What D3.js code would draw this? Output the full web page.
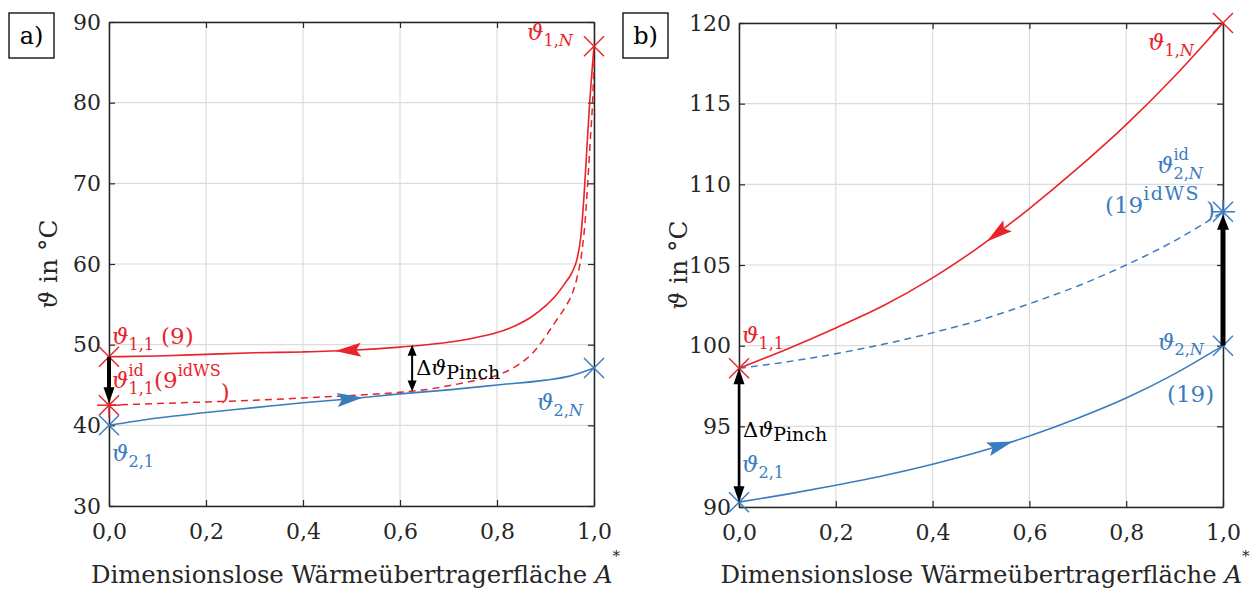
<!DOCTYPE html>
<html><head><meta charset="utf-8">
<script src="https://cdn.jsdelivr.net/npm/d3@7"></script>
<style>body{margin:0;background:#fff} text{font-family:"DejaVu Serif",serif}</style>
</head><body><svg id="c" width="1260" height="595"></svg>
<script>
// ---------- data ----------
const xTicks = [0, 0.2, 0.4, 0.6, 0.8, 1.0];
const aYTicks = [30, 40, 50, 60, 70, 80, 90];
const bYTicks = [90, 95, 100, 105, 110, 115, 120];

// panel a
const aHotX  = [0,0.1,0.2,0.3,0.4,0.5,0.6,0.7,0.75,0.8,0.84,0.87,0.9,0.92,0.94,0.955,0.965,0.973,0.98,0.985,0.99,1.0];
const aHotY  = [48.5,48.6,48.8,49.0,49.1,49.3,49.7,50.3,50.8,51.5,52.4,53.4,54.8,56.0,57.6,59.0,60.6,63.5,69.0,74.0,79.0,87.0];
const aHotIdX = [0,0.1,0.2,0.3,0.4,0.5,0.6,0.65,0.7,0.75,0.8,0.83,0.86,0.88,0.9,0.92,0.94,0.955,0.965,0.975,0.982,0.988,0.993,0.997,1.0];
const aHotIdY = [42.5,42.7,42.9,43.1,43.4,43.7,44.1,44.4,44.9,45.5,46.2,47.0,48.2,49.4,51.0,52.8,54.6,56.3,58.3,61.5,65.5,71.0,76.0,80.0,85.0];
const aColdX = [0,0.1,0.2,0.3,0.4,0.5,0.6,0.7,0.8,0.9,0.95,1.0];
const aColdY = [40.0,40.9,41.6,42.2,42.8,43.3,43.9,44.4,45.0,45.6,46.1,47.1];

// panel b
const bX = [0,0.1,0.2,0.3,0.4,0.5,0.6,0.7,0.8,0.9,1.0];
const bHotY    = [98.6,99.8,101.1,102.5,104.2,106.2,108.5,111.0,113.7,116.7,120.0];
const bColdIdY = [98.6,99.0,99.5,100.1,100.8,101.6,102.6,103.7,105.0,106.5,108.3];
const bColdY   = [90.3,90.8,91.35,91.95,92.65,93.45,94.4,95.5,96.75,98.25,100.0];

// ---------- setup ----------
const svg = d3.select("#c");
svg.append("rect").attr("width",1260).attr("height",595).attr("fill","#fff");
const RED = "#e8242a", BLUE = "#3a7dbf", AX = "#262626", GRID = "#dcdcdc";
const FONT = '"DejaVu Serif", serif';
const comma = d => d3.format(".1f")(d).replace(".", ",");
const zip = (xs, ys) => xs.map((v, i) => [v, ys[i]]);

function rich(g, x0, y0, parts, color, fs) {
  let cx = x0, saved = x0, maxX = x0;
  for (const p of parts) {
    if (p.save) { saved = cx; maxX = cx; continue; }
    if (p.restore) { maxX = Math.max(maxX, cx); cx = saved; continue; }
    if (p.jump) { cx = Math.max(maxX, cx); continue; }
    if (p.gap) { cx += p.gap; continue; }
    const k = p.k || "b";
    const size = p.fs || (k === "b" ? fs : fs * 0.7);
    const dy = k === "sub" ? fs * 0.25 : k === "sup" ? -fs * 0.55 : 0;
    const t = g.append("text").attr("x", cx).attr("y", y0 + dy + (p.dy || 0))
      .attr("font-size", size).attr("fill", color).attr("font-family", FONT)
      .attr("letter-spacing", p.ls || 0)
      .attr("font-style", p.it ? "italic" : "normal").text(p.t);
    cx += t.node().getComputedTextLength() + (p.ls || 0) * p.t.length;
  }
}

function marker(g, px, py, color, type) {
  const s = 10;
  const segs = [[-s,-s,s,s],[-s,s,s,-s]];
  if (type === "star") { segs.push([-12,0,12,0],[0,-12,0,12]); }
  segs.forEach(d => g.append("line").attr("x1",px+d[0]).attr("y1",py+d[1]).attr("x2",px+d[2]).attr("y2",py+d[3])
    .attr("stroke",color).attr("stroke-width",1.5));
}

function arrow(g, x1, y1, x2, y2, o) {
  const dx = x2 - x1, dy = y2 - y1, len = Math.hypot(dx, dy), ux = dx/len, uy = dy/len;
  const sx = o.both ? x1 + ux*o.L*0.8 : x1, sy = o.both ? y1 + uy*o.L*0.8 : y1;
  g.append("line").attr("x1",sx).attr("y1",sy).attr("x2",x2-ux*o.L*0.8).attr("y2",y2-uy*o.L*0.8)
    .attr("stroke","#000").attr("stroke-width",o.w);
  const head = (tx, ty, vx, vy) => {
    const bx = tx - vx*o.L, by = ty - vy*o.L, nx = -vy, ny = vx;
    g.append("path").attr("d",`M${tx},${ty}L${bx+nx*o.W/2},${by+ny*o.W/2}L${bx-nx*o.W/2},${by-ny*o.W/2}Z`).attr("fill","#000");
  };
  head(x2, y2, ux, uy);
  if (o.both) head(x1, y1, -ux, -uy);
}

function curveArrow(g, pathNode, tipPx, dir, color) {
  const total = pathNode.getTotalLength();
  let lo = 0, hi = total;
  for (let i = 0; i < 40; i++) { const m = (lo+hi)/2; if (pathNode.getPointAtLength(m).x < tipPx) lo = m; else hi = m; }
  const lt = (lo+hi)/2, L = 26, W = 14;
  const tip = pathNode.getPointAtLength(lt);
  const back = pathNode.getPointAtLength(Math.max(0, Math.min(total, lt - dir*L)));
  const ang = Math.atan2(tip.y - back.y, tip.x - back.x) * 180 / Math.PI;
  g.append("path").attr("d",`M0,0L${-L},${-W/2}L${-L*0.82},0L${-L},${W/2}Z`).attr("fill",color)
    .attr("transform",`translate(${tip.x},${tip.y}) rotate(${ang})`);
}

function panel(x, y, yTicks, letter, boxX) {
  const g = svg.append("g");
  const [x0, x1] = x.range(), [yb, yt] = y.range();
  g.selectAll(null).data(xTicks).join("line").attr("x1",d=>x(d)).attr("x2",d=>x(d)).attr("y1",yb).attr("y2",yt).attr("stroke",GRID).attr("stroke-width",1.2);
  g.selectAll(null).data(yTicks).join("line").attr("y1",d=>y(d)).attr("y2",d=>y(d)).attr("x1",x0).attr("x2",x1).attr("stroke",GRID).attr("stroke-width",1.2);
  const style = s => { s.select(".domain").attr("stroke",AX).attr("stroke-width",1.5);
    s.selectAll(".tick line").attr("stroke",AX).attr("stroke-width",1.2);
    s.selectAll("text").attr("font-family",FONT).attr("font-size",22).attr("fill",AX); };
  g.append("g").attr("transform",`translate(0,${yb})`).call(d3.axisBottom(x).tickValues(xTicks).tickFormat(comma).tickSizeInner(-6).tickSizeOuter(0).tickPadding(17)).call(style);
  g.append("g").attr("transform",`translate(0,${yt})`).call(d3.axisTop(x).tickValues(xTicks).tickFormat("").tickSizeInner(-6).tickSizeOuter(0)).call(style);
  g.append("g").attr("transform",`translate(${x0},0)`).call(d3.axisLeft(y).tickValues(yTicks).tickSizeInner(-6).tickSizeOuter(0).tickPadding(8)).call(style);
  g.append("g").attr("transform",`translate(${x1},0)`).call(d3.axisRight(y).tickValues(yTicks).tickFormat("").tickSizeInner(-6).tickSizeOuter(0)).call(style);
  const xl = g.append("text").attr("x",(x0+x1)/2 + 4).attr("y",583).attr("text-anchor","middle").attr("font-family",FONT).attr("font-size",22).attr("fill",AX);
  xl.append("tspan").text("Dimensionslose Wärmeübertragerfläche ");
  xl.append("tspan").attr("font-style","italic").text("A");
  xl.append("tspan").attr("dy",-22).attr("font-size",15).text("*");
  const w = xl.node().getComputedTextLength();
  xl.attr("font-size", 22 * 530 / w);
  const yl = g.append("text").attr("transform",`translate(${x0-52},${(yb+yt)/2}) rotate(-90)`).attr("text-anchor","middle")
    .attr("font-family",FONT).attr("font-size",25).attr("fill",AX);
  yl.append("tspan").attr("font-style","italic").text("ϑ");
  yl.append("tspan").text(" in °C");
  g.append("rect").attr("x",boxX).attr("y",13).attr("width",45).attr("height",45).attr("fill","#fff").attr("stroke","#000").attr("stroke-width",1.3);
  g.append("text").attr("x",boxX+22.5).attr("y",44).attr("text-anchor","middle").attr("font-family",FONT).attr("font-size",24).attr("fill","#000").text(letter);
  return g;
}

const lineGen = (x, y) => d3.line().x(d=>x(d[0])).y(d=>y(d[1])).curve(d3.curveMonotoneX);

// ---------- panel a ----------
{
  const x = d3.scaleLinear([0,1],[109,594]);
  const y = d3.scaleLinear([30,90],[506,22]);
  const g = panel(x, y, aYTicks, "a)", 9);
  const lg = lineGen(x, y);
  g.append("path").attr("d", lg(zip(aHotIdX, aHotIdY))).attr("fill","none").attr("stroke",RED).attr("stroke-width",1.5).attr("stroke-dasharray","7,5");
  const cold = g.append("path").attr("d", lg(zip(aColdX, aColdY))).attr("fill","none").attr("stroke",BLUE).attr("stroke-width",1.6);
  const hot = g.append("path").attr("d", lg(zip(aHotX, aHotY))).attr("fill","none").attr("stroke",RED).attr("stroke-width",1.6);
  curveArrow(g, hot.node(), x(0.466), -1, RED);
  curveArrow(g, cold.node(), x(0.524), 1, BLUE);
  marker(g, x(0), y(aHotY[0]), RED, "x");
  marker(g, x(1), y(aHotY[aHotY.length-1]), RED, "x");
  marker(g, x(0), y(aHotIdY[0]), RED, "star");
  marker(g, x(0), y(aColdY[0]), BLUE, "x");
  marker(g, x(1), y(aColdY[aColdY.length-1]), BLUE, "x");
  arrow(g, x(0), y(aHotY[0]), x(0), y(aHotIdY[0]) - 2, {w:4, L:16, W:11});
  arrow(g, x(0.625), y(50.0), x(0.625), y(44.2), {w:2, L:11, W:9, both:true});
  const F = 23;
  rich(g, x(1)-67, y(87)-6, [{t:"ϑ",it:1},{t:"1,",k:"sub"},{t:"N",k:"sub",it:1}], RED, F);
  rich(g, x(0)+3, y(48.5)-13, [{t:"ϑ",it:1},{t:"1,1",k:"sub"},{gap:7},{t:"(9)"}], RED, F);
  rich(g, x(0)+3, y(42.5)-17, [{t:"ϑ",it:1},{save:1},{t:"id",k:"sup"},{restore:1},{t:"1,1",k:"sub"},{jump:1},{t:"(9"},{t:"idWS",k:"sup"},{t:")",dy:12}], RED, F);
  rich(g, x(0)+3, y(40)+36, [{t:"ϑ",it:1},{t:"2,1",k:"sub"}], BLUE, F);
  rich(g, x(1)-57, y(47.1)+42, [{t:"ϑ",it:1},{t:"2,",k:"sub"},{t:"N",k:"sub",it:1}], BLUE, F);
  rich(g, x(0.625)+4, y(50.0)+30, [{t:"Δ"},{t:"ϑ",it:1},{t:"Pinch",fs:19,dy:4}], "#000", 21);
}

// ---------- panel b ----------
{
  const x = d3.scaleLinear([0,1],[739,1223]);
  const y = d3.scaleLinear([90,120],[507,23]);
  const g = panel(x, y, bYTicks, "b)", 623);
  const lg = lineGen(x, y);
  g.append("path").attr("d", lg(zip(bX, bColdIdY))).attr("fill","none").attr("stroke",BLUE).attr("stroke-width",1.5).attr("stroke-dasharray","7,5");
  const cold = g.append("path").attr("d", lg(zip(bX, bColdY))).attr("fill","none").attr("stroke",BLUE).attr("stroke-width",1.6);
  const hot = g.append("path").attr("d", lg(zip(bX, bHotY))).attr("fill","none").attr("stroke",RED).attr("stroke-width",1.6);
  curveArrow(g, hot.node(), x(0.512), -1, RED);
  curveArrow(g, cold.node(), x(0.566), 1, BLUE);
  marker(g, x(0), y(bHotY[0]), RED, "x");
  marker(g, x(1), y(bHotY[bHotY.length-1]), RED, "x");
  marker(g, x(0), y(bColdY[0]), BLUE, "x");
  marker(g, x(1), y(bColdY[bColdY.length-1]), BLUE, "x");
  marker(g, x(1), y(bColdIdY[bColdIdY.length-1]), BLUE, "star");
  arrow(g, x(0), y(bColdY[0]), x(0), y(bHotY[0]), {w:2.5, L:16, W:11, both:true});
  arrow(g, x(1), y(bColdY[bColdY.length-1]), x(1), y(bColdIdY[bColdIdY.length-1]) + 3, {w:5, L:15, W:12});
  const F = 23;
  rich(g, x(1)-75, y(120)+27, [{t:"ϑ",it:1},{t:"1,",k:"sub"},{t:"N",k:"sub",it:1}], RED, F);
  rich(g, x(1)-66, y(108.3)-39, [{t:"ϑ",it:1},{save:1},{t:"id",k:"sup"},{restore:1},{t:"2,",k:"sub"},{t:"N",k:"sub",it:1}], BLUE, F);
  rich(g, x(1)-118, y(108.3)+1, [{t:"(19"},{t:"idWS",k:"sup",fs:19,ls:1.5},{t:")",dy:5}], BLUE, F);
  rich(g, x(1)-65, y(100)+4, [{t:"ϑ",it:1},{t:"2,",k:"sub"},{t:"N",k:"sub",it:1}], BLUE, F);
  rich(g, x(1)-56, y(100)+56, [{t:"(19)"}], BLUE, F);
  rich(g, x(0)+3, y(98.6)-25, [{t:"ϑ",it:1},{t:"1,1",k:"sub"}], RED, F);
  rich(g, x(0)+4, y(98.6)+69, [{t:"Δ"},{t:"ϑ",it:1},{t:"Pinch",fs:19,dy:4}], "#000", 21);
  rich(g, x(0)+3, y(90.3)-30, [{t:"ϑ",it:1},{t:"2,1",k:"sub"}], BLUE, F);
}
</script></body></html>
